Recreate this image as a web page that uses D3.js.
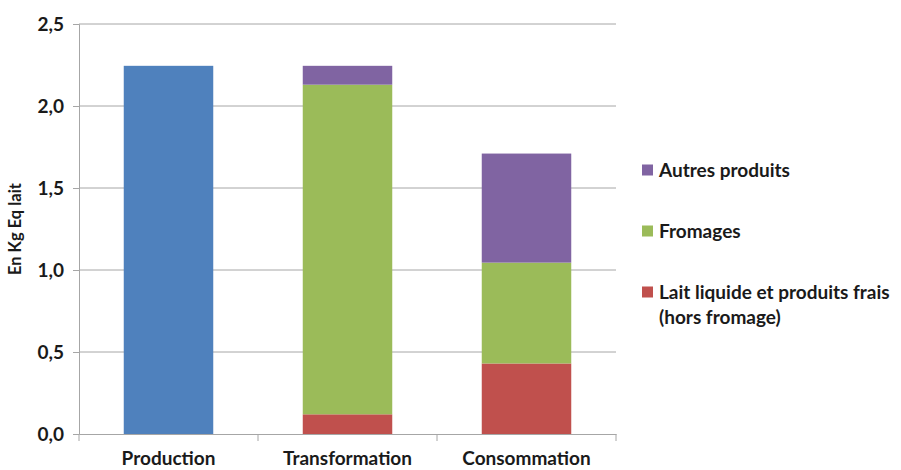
<!DOCTYPE html>
<html><head><meta charset="utf-8">
<script src="https://cdn.jsdelivr.net/npm/d3@7"></script>
<style>body{margin:0;background:#fff}svg{display:block}text{font-family:Lato,'Open Sans',sans-serif;font-weight:bold;fill:#1a1a1a}</style>
</head><body><svg width="901" height="470"></svg>
<script>
const categories = ["Production", "Transformation", "Consommation"];
const production = [2.245, 0, 0];
const laitLiquide = [0, 0.12, 0.43];
const fromages = [0, 2.01, 0.615];
const autres = [0, 0.115, 0.665];
const yTicks = [0, 0.5, 1.0, 1.5, 2.0, 2.5];
const seriesNames = ["Production", "Lait liquide et produits frais (hors fromage)", "Fromages", "Autres produits"];
const seriesColors = ["#4F81BD", "#C0504D", "#9BBB59", "#8064A2"];
const legendItems = [
  {name: ["Autres produits"], color: "#8064A2"},
  {name: ["Fromages"], color: "#9BBB59"},
  {name: ["Lait liquide et produits frais", "(hors fromage)"], color: "#C0504D"}
];

const svg = d3.select("svg");
const m = {left: 79, right: 285, top: 24, bottom: 36};
const W = 901, H = 470;
const x = d3.scaleBand().domain(categories).range([m.left, W - m.right]).paddingInner(0.5).paddingOuter(0.25);
const xb = d3.scaleBand().domain(categories).range([m.left, W - m.right]);
const y = d3.scaleLinear().domain([0, 2.5]).range([H - m.bottom, m.top]);

// grid
svg.append("g").selectAll("line").data(yTicks.filter(d => d > 0)).join("line")
  .attr("x1", m.left).attr("x2", W - m.right)
  .attr("y1", d => y(d)).attr("y2", d => y(d))
  .attr("stroke", "#a6a6a6").attr("stroke-width", 1);

// y axis
const yAxis = d3.axisLeft(y).tickValues(yTicks).tickSize(6).tickPadding(9)
  .tickFormat(d => d3.format(".1f")(d).replace(".", ","));
const gy = svg.append("g").attr("transform", `translate(${m.left},0)`).call(yAxis);
gy.select(".domain").attr("stroke", "#a6a6a6");
gy.selectAll(".tick line").attr("stroke", "#a6a6a6");
gy.selectAll(".tick text").style("font-size", "19px").attr("fill", "#1a1a1a");

// stacked data
const table = categories.map((c, i) => ({cat: c, s0: production[i], s1: laitLiquide[i], s2: fromages[i], s3: autres[i]}));
const stack = d3.stack().keys(["s0", "s1", "s2", "s3"])(table);
svg.append("g").selectAll("g").data(stack).join("g")
  .attr("fill", (d, i) => seriesColors[i])
  .selectAll("rect").data(d => d.filter(p => p[1] - p[0] > 0)).join("rect")
  .attr("x", d => x(d.data.cat)).attr("width", x.bandwidth())
  .attr("y", d => y(d[1])).attr("height", d => y(d[0]) - y(d[1]));

// x axis
const xAxis = d3.axisBottom(xb).tickSize(0).tickPadding(18);
const gx = svg.append("g").attr("transform", `translate(0,${y(0)})`).call(xAxis);
gx.select(".domain").attr("stroke", "#a6a6a6");
gx.selectAll(".tick text").style("font-size", "19px").attr("fill", "#1a1a1a");
const bounds = [m.left].concat(categories.map(c => xb(c) + xb.bandwidth()));
gx.append("g").selectAll("line").data(bounds).join("line")
  .attr("x1", d => d).attr("x2", d => d).attr("y1", 0).attr("y2", 7)
  .attr("stroke", "#a6a6a6");

// y title
svg.append("text").attr("transform", `translate(21,${(y(0)+y(2.5))/2}) rotate(-90)`)
  .attr("text-anchor", "middle").style("font-size", "16.5px").text("En Kg Eq lait");

// legend
const lg = svg.append("g");
const ly = [170, 231, 292];
legendItems.forEach((it, i) => {
  lg.append("rect").attr("x", 642).attr("y", ly[i] - 5.5).attr("width", 11).attr("height", 11).attr("fill", it.color);
  it.name.forEach((t, j) => {
    lg.append("text").attr("x", 659).attr("y", ly[i] + 7 + j * 25).style("font-size", "19px").text(t);
  });
});
</script></body></html>
